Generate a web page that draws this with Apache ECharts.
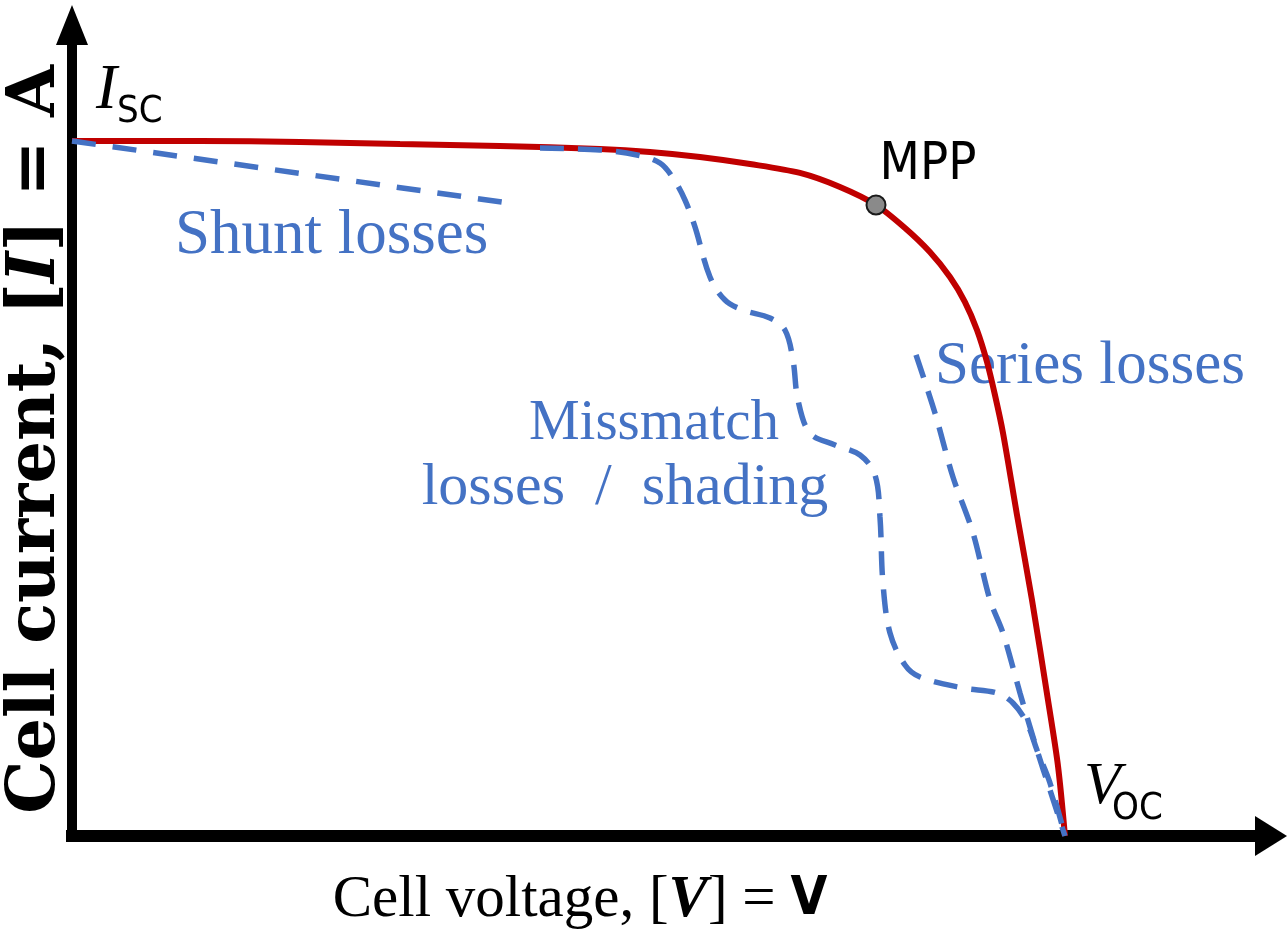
<!DOCTYPE html>
<html>
<head>
<meta charset="utf-8">
<script src="https://cdn.jsdelivr.net/npm/echarts@6/dist/echarts.min.js"></script>
<style>
  html, body { margin: 0; padding: 0; background: #fff; }
  #chart { width: 1287px; height: 933px; }
</style>
</head>
<body>
<div id="chart"></div>
<script>
// Normalised units: voltage as V / Voc, current as I / Isc.

// Ideal cell I–V characteristic
const cellVoltage = [0, 0.1289, 0.2296, 0.3303, 0.4310, 0.5317, 0.5821, 0.6324, 0.6828, 0.7331, 0.7734, 0.8097, 0.8389, 0.8640, 0.8842, 0.8993, 0.9114, 0.9215, 0.9295, 0.9376, 0.9517, 0.9668, 0.9829, 0.9930, 1.0];
const cellCurrent = [1.0, 1.0, 0.9986, 0.9957, 0.9928, 0.9885, 0.9842, 0.9770, 0.9669, 0.9540, 0.9338, 0.9079, 0.8748, 0.8403, 0.8043, 0.7683, 0.7281, 0.6820, 0.6345, 0.5799, 0.4619, 0.3396, 0.1957, 0.1007, 0];

// Shunt losses: slope near short circuit
const shuntVoltage = [0, 0.4391];
const shuntCurrent = [1.0, 0.9108];

// Mismatch / shading: stepped curve
const mismatchVoltage = [0.4713, 0.5317, 0.5690, 0.5921, 0.6052, 0.6173, 0.6274, 0.6425, 0.6576, 0.6757, 0.7029, 0.7180, 0.7261, 0.7311, 0.7432, 0.7684, 0.7936, 0.8087, 0.8137, 0.8167, 0.8238, 0.8389, 0.8540, 0.8973, 0.9315, 0.9476, 0.9617, 0.9718, 0.9849, 1.0];
const mismatchCurrent = [0.9899, 0.9871, 0.9799, 0.9683, 0.9468, 0.9151, 0.8763, 0.8043, 0.7712, 0.7568, 0.7453, 0.7281, 0.6849, 0.6273, 0.5799, 0.5626, 0.5482, 0.5194, 0.4590, 0.3640, 0.2921, 0.2460, 0.2288, 0.2129, 0.2058, 0.1914, 0.1626, 0.1237, 0.0763, 0];

// Series losses: flattened slope near open circuit
const seriesVoltage = [0.8500, 0.8691, 0.8872, 0.9074, 0.9245, 0.9376, 0.9547, 0.9718, 0.9849, 1.0];
const seriesCurrent = [0.6921, 0.6086, 0.5165, 0.4360, 0.3396, 0.2921, 0.2058, 0.1237, 0.0662, 0];

// Maximum power point
const mppVoltage = [0.8097];
const mppCurrent = [0.9079];

// Axis extents (arrow heads sit at the ends)
const voltageMax = 1.2075;
const currentMax = 1.1669;

const zip = (xs, ys) => xs.map((x, i) => [x, ys[i]]);

const SERIF = '"Liberation Serif", "Times New Roman", serif';
const NARROW = '"Liberation Sans Narrow", "DejaVu Sans Condensed", "Liberation Sans", sans-serif';
const BLUE = '#4472C4';
const RED = '#C00000';

const chart = echarts.init(document.getElementById('chart'), null, { renderer: 'canvas' });

const dashed = { color: BLUE, width: 5.5, type: [24, 14], cap: 'butt' };

function blueText(text, x, y, size, align) {
  return { type: 'text', x: x, y: y, style: { text: text, font: size + 'px ' + SERIF, fill: BLUE, align: align, verticalAlign: 'middle' } };
}

chart.setOption({
  animation: false,
  backgroundColor: '#ffffff',
  grid: { left: 72, right: 16, top: 25, bottom: 97, containLabel: false, outerBoundsMode: 'none' },
  xAxis: {
    type: 'value', min: 0, max: voltageMax,
    axisLine: { show: true, onZero: false, symbol: ['none', 'triangle'], symbolSize: [40, 32],
      lineStyle: { color: '#000', width: 12, cap: 'square' } },
    axisTick: { show: false }, axisLabel: { show: false }, splitLine: { show: false },
    name: '{r|Cell voltage, [}{bi|V}{r|] = }{b|V}',
    nameLocation: 'middle', nameGap: 35,
    nameTextStyle: {
      padding: [0, 183, 0, 0],
      rich: {
        r: { fontFamily: SERIF, fontSize: 59, lineHeight: 59, color: '#000' },
        bi: { fontFamily: SERIF, fontSize: 59, lineHeight: 59, fontStyle: 'italic', fontWeight: 'bold', color: '#000' },
        b: { fontFamily: NARROW, fontSize: 53, lineHeight: 59, fontWeight: 'bold', color: '#000' }
      }
    }
  },
  yAxis: {
    type: 'value', min: 0, max: currentMax,
    axisLine: { show: true, onZero: false, symbol: ['none', 'triangle'], symbolSize: [32, 40],
      lineStyle: { color: '#000', width: 10, cap: 'square' } },
    axisTick: { show: false }, axisLabel: { show: false }, splitLine: { show: false },
    name: '{r|Cell current, [}{bi|I}{r|] = A}',
    nameLocation: 'middle', nameRotate: 90, nameGap: 1,
    nameTextStyle: {
      padding: [0, 18, 0, 0],
      rich: {
        r: { fontFamily: '"DejaVu Serif", serif', fontSize: 67, lineHeight: 68, fontWeight: 'bold', color: '#000' },
        bi: { fontFamily: '"DejaVu Serif", serif', fontSize: 67, lineHeight: 68, fontWeight: 'bold', fontStyle: 'italic', color: '#000' }
      }
    }
  },
  series: [
    {
      name: 'Cell I–V', type: 'line', data: zip(cellVoltage, cellCurrent),
      smooth: 0.3, showSymbol: false, symbol: 'none',
      lineStyle: { color: RED, width: 6 }, z: 2
    },
    {
      name: 'Shunt losses', type: 'line', data: zip(shuntVoltage, shuntCurrent),
      showSymbol: false, symbol: 'none', lineStyle: { ...dashed, type: [24, 17] }, z: 3
    },
    {
      name: 'Missmatch losses / shading', type: 'line', data: zip(mismatchVoltage, mismatchCurrent),
      smooth: 0.35, showSymbol: false, symbol: 'none', lineStyle: dashed, z: 3
    },
    {
      name: 'Series losses', type: 'line', data: zip(seriesVoltage, seriesCurrent),
      smooth: 0.3, showSymbol: false, symbol: 'none', lineStyle: dashed, z: 3
    },
    {
      name: 'MPP', type: 'scatter', data: zip(mppVoltage, mppCurrent),
      symbol: 'circle', symbolSize: 19,
      itemStyle: { color: '#8a8a8a', borderColor: '#1a1a1a', borderWidth: 2, opacity: 1 },
      label: {
        show: true, formatter: 'MPP', position: 'inside', offset: [52, -40],
        fontFamily: NARROW, fontSize: 52, color: '#000'
      },
      z: 5
    }
  ],
  graphic: [
    { type: 'text', x: 96, y: 91, style: { text: 'I', font: 'italic 63px ' + SERIF, fill: '#000', align: 'left', verticalAlign: 'middle' } },
    { type: 'text', x: 117, y: 112, style: { text: 'SC', font: '38px ' + NARROW, fill: '#000', align: 'left', verticalAlign: 'middle' } },
    { type: 'text', x: 1084, y: 787, style: { text: 'V', font: 'italic 60px ' + SERIF, fill: '#000', align: 'left', verticalAlign: 'middle' } },
    { type: 'text', x: 1112, y: 809, style: { text: 'OC', font: '38px ' + NARROW, fill: '#000', align: 'left', verticalAlign: 'middle' } },
    blueText('Shunt losses', 175, 236, 63, 'left'),
    blueText('Series losses', 935, 367, 61, 'left'),
    blueText('Missmatch', 654, 424, 57, 'center'),
    blueText('losses  /  shading', 625, 488, 60, 'center')
  ]
});
</script>
</body>
</html>
